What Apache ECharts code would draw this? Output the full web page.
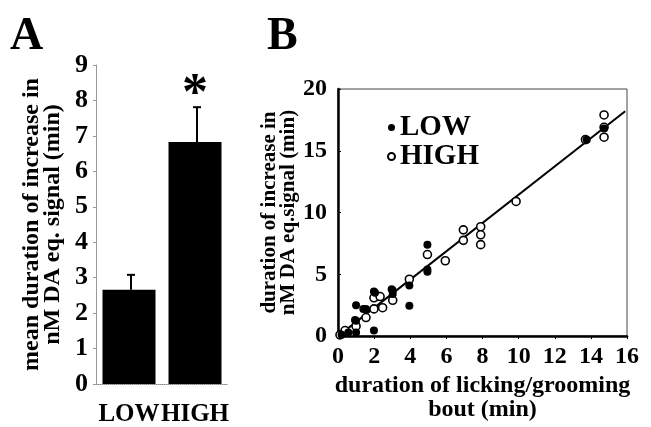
<!DOCTYPE html>
<html>
<head>
<meta charset="utf-8">
<script src="https://cdn.jsdelivr.net/npm/echarts@6/dist/echarts.min.js"></script>
<style>
  html, body { margin: 0; padding: 0; background: #fff; }
  #chart { width: 651px; height: 427px; }
</style>
</head>
<body>
<div id="chart"></div>
<script>
// 面板 A：均值 + 误差
const groups = ['LOW', 'HIGH'];
const meanDur = [2.66, 6.83];
const errDur = [0.42, 0.98];

// 面板 B：散点 [舔舐时长, 信号增加时长]
const lowPts = [
  [13.77, 15.9], [14.73, 16.8], [4.95, 7.4], [4.95, 5.4], [4.95, 5.2],
  [3.95, 4.1], [3.95, 2.45], [3.03, 3.7], [3.03, 3.4], [2.97, 3.8],
  [1.99, 3.6], [2.05, 3.5], [1.99, 0.45], [1.55, 2.2], [1.4, 2.2],
  [1.0, 2.5], [1.0, 1.25], [0.94, 1.3], [1.0, 0.3], [0.57, 0.3], [0.2, 0.1]
];
const highPts = [
  [14.73, 17.9], [14.73, 16.9], [14.73, 16.1], [13.7, 15.9], [9.86, 10.9],
  [6.94, 8.6], [6.94, 7.75], [7.9, 8.85], [7.9, 8.2], [7.9, 7.4],
  [5.94, 6.1], [4.95, 6.6], [3.95, 4.6], [3.03, 2.9], [2.47, 2.3],
  [1.99, 3.1], [2.33, 3.2], [1.99, 2.2], [1.55, 1.5], [1.0, 0.8],
  [0.39, 0.45], [0.11, 0.1]
];
// 回归线端点
const fitX = [0, 15.9];
const fitY = [0, 18.2];

const serif = 'Liberation Serif';
const boldText = (size) => ({ fontFamily: serif, fontWeight: 'bold', fontSize: size, color: '#000' });

const chartDom = document.getElementById('chart');
const myChart = echarts.init(chartDom);

const option = {
  animation: false,
  backgroundColor: '#fff',
  title: [
    { text: 'A', left: 10, top: 14, padding: 0, textStyle: boldText(46) },
    { text: 'B', left: 267, top: 14, padding: 0, textStyle: boldText(46) }
  ],
  legend: {
    data: ['LOW', 'HIGH'],
    orient: 'vertical',
    left: 382,
    top: 108,
    itemGap: 0,
    itemWidth: 7,
    itemHeight: 7,
    icon: 'circle',
    textStyle: Object.assign(boldText(29), { lineHeight: 18, padding: [11, 0, 0, 0] })
  },
  grid: [
    { left: 96, top: 65, width: 132, height: 321 },
    { left: 338, top: 89, width: 289, height: 250, show: true, borderColor: '#444', borderWidth: 1 }
  ],
  xAxis: [
    {
      gridIndex: 0,
      type: 'category',
      data: groups,
      axisLine: { lineStyle: { color: '#888', width: 1, type: 'dotted' } },
      axisTick: { show: false },
      axisLabel: Object.assign(boldText(25), { margin: 18, interval: 0, hideOverlap: false })
    },
    {
      gridIndex: 1,
      type: 'value',
      min: 0,
      max: 16,
      interval: 2,
      splitLine: { show: false },
      axisLine: { onZero: false, lineStyle: { color: '#000', width: 2.5 } },
      axisTick: { inside: false, length: 3, lineStyle: { color: '#000' } },
      axisLabel: Object.assign(boldText(24), { margin: 9 }),
      name: 'duration of licking/grooming\nbout (min)',
      nameLocation: 'middle',
      nameGap: 37,
      nameTextStyle: Object.assign(boldText(24), { lineHeight: 24 })
    }
  ],
  yAxis: [
    {
      gridIndex: 0,
      type: 'value',
      min: 0,
      max: 9,
      interval: 1,
      splitLine: { show: false },
      axisLine: { show: true, lineStyle: { color: '#999', width: 1 } },
      axisTick: { show: true, length: 3, lineStyle: { color: '#999' } },
      axisLabel: Object.assign(boldText(26), { margin: 8 }),
      name: 'mean duration of increase in\nnM DA eq. signal (min)',
      nameLocation: 'middle',
      nameRotate: 90,
      nameGap: 33,
      nameTextStyle: Object.assign(boldText(24), { lineHeight: 21 })
    },
    {
      gridIndex: 1,
      type: 'value',
      min: 0,
      max: 20,
      interval: 5,
      splitLine: { show: false },
      axisLine: { show: true, onZero: false, lineStyle: { color: '#000', width: 2.5 } },
      axisTick: { show: true, inside: true, length: 3, lineStyle: { color: '#000' } },
      axisLabel: Object.assign(boldText(24), { margin: 11 }),
      name: 'duration of increase in\nnM DA eq.signal (min)',
      nameLocation: 'middle',
      nameRotate: 90,
      nameGap: 38,
      nameTextStyle: Object.assign(boldText(21), { lineHeight: 19 })
    }
  ],
  series: [
    {
      name: 'mean',
      type: 'bar',
      xAxisIndex: 0,
      yAxisIndex: 0,
      data: meanDur,
      barWidth: 53,
      itemStyle: { color: '#000' },
      markPoint: {
        symbol: 'circle',
        symbolSize: 0,
        label: { show: true, position: 'inside', formatter: '*', fontFamily: serif, fontWeight: 'bold', fontSize: 52, color: '#000' },
        data: [{ coord: ['HIGH', 8.15] }]
      }
    },
    {
      name: 'err',
      type: 'custom',
      xAxisIndex: 0,
      yAxisIndex: 0,
      data: groups.map((g, i) => [i, meanDur[i], meanDur[i] + errDur[i]]),
      renderItem: function (params, api) {
        const base = api.coord([api.value(0), api.value(1)]);
        const top = api.coord([api.value(0), api.value(2)]);
        const x = base[0] + 2;
        return {
          type: 'group',
          children: [
            { type: 'line', shape: { x1: x, y1: base[1], x2: x, y2: top[1] }, style: { stroke: '#000', lineWidth: 2 } },
            { type: 'line', shape: { x1: x - 4, y1: top[1], x2: x + 4, y2: top[1] }, style: { stroke: '#000', lineWidth: 2 } }
          ]
        };
      }
    },
    {
      name: 'fit',
      type: 'line',
      xAxisIndex: 1,
      yAxisIndex: 1,
      data: fitX.map((x, i) => [x, fitY[i]]),
      symbol: 'none',
      lineStyle: { color: '#000', width: 2 },
      z: 1
    },
    {
      name: 'HIGH',
      type: 'scatter',
      xAxisIndex: 1,
      yAxisIndex: 1,
      data: highPts,
      symbol: 'circle',
      symbolSize: 8,
      itemStyle: { color: '#fff', borderColor: '#000', borderWidth: 1.6, opacity: 1 },
      z: 3
    },
    {
      name: 'LOW',
      type: 'scatter',
      xAxisIndex: 1,
      yAxisIndex: 1,
      data: lowPts,
      symbol: 'circle',
      symbolSize: 8,
      itemStyle: { color: '#000', opacity: 1 },
      z: 4
    }
  ]
};

myChart.setOption(option);
window.addEventListener('resize', () => myChart.resize());
</script>
</body>
</html>
